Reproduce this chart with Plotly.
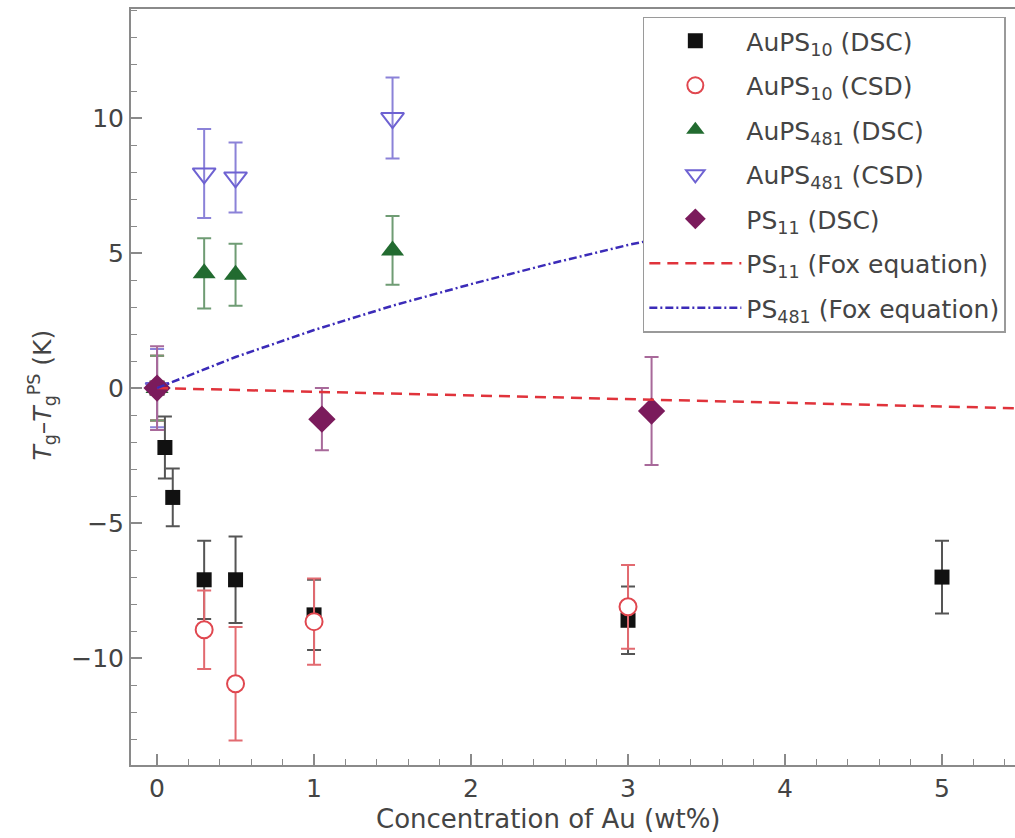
import plotly.graph_objects as go

# ---- data ----
au10_dsc_x = [0, 0.05, 0.1, 0.3, 0.5, 1.0, 3.0, 5.0]
au10_dsc_y = [0, -2.2, -4.05, -7.1, -7.1, -8.4, -8.6, -7.0]
au10_dsc_e = [1.2, 1.15, 1.07, 1.45, 1.6, 1.3, 1.25, 1.35]

au10_csd_x = [0, 0.3, 0.5, 1.0, 3.0]
au10_csd_y = [0, -8.95, -10.95, -8.65, -8.1]
au10_csd_e = [1.2, 1.45, 2.1, 1.6, 1.55]

au481_dsc_x = [0, 0.3, 0.5, 1.5]
au481_dsc_y = [0, 4.25, 4.2, 5.1]
au481_dsc_e = [1.2, 1.3, 1.15, 1.27]

au481_csd_x = [0, 0.3, 0.5, 1.5]
au481_csd_y = [0, 7.95, 7.8, 10.0]
au481_csd_e = [1.45, 1.65, 1.3, 1.5]

ps11_dsc_x = [0, 1.05, 3.15]
ps11_dsc_y = [0, -1.15, -0.85]
ps11_dsc_e = [1.55, 1.15, 2.0]

fox11_x = [0, 1, 2, 3, 4, 5, 5.5]
fox11_y = [0, -0.14, -0.28, -0.41, -0.54, -0.68, -0.75]

fox481_x = [0, 0.5, 1, 1.5, 2, 2.5, 3, 3.5, 4, 4.5, 5, 5.4]
fox481_y = [0, 1.15, 2.15, 3.05, 3.85, 4.6, 5.3, 5.9, 6.5, 7.0, 7.5, 7.9]

x_title = "Concentration of Au (wt%)"
y_title = "<i>T</i><sub>g</sub>\u2013<i>T</i><sub>g</sub><sup>PS</sup> (K)"

FONT = "DejaVu Sans"
TXT = "#444444"

fig = go.Figure()


def pts(x, y, e, name, symbol, color, fillcolor, ecolor, size, lw, grp):
    fig.add_trace(go.Scatter(
        x=x, y=y, mode="markers", name=name, legendgroup=grp,
        marker=dict(symbol=symbol, size=size, color=fillcolor,
                    line=dict(color=color, width=lw)),
        error_y=dict(type="data", array=e, visible=True, color=ecolor,
                     thickness=2, width=7),
    ))


pts(au10_dsc_x, au10_dsc_y, au10_dsc_e, "AuPS<sub>10</sub> (DSC)", "square",
    "#111111", "#111111", "#555555", 15, 0, "a")
pts(au10_csd_x, au10_csd_y, au10_csd_e, "AuPS<sub>10</sub> (CSD)", "circle",
    "#e0474f", "white", "#e26a70", 17, 2, "b")
pts(au481_dsc_x, au481_dsc_y, au481_dsc_e, "AuPS<sub>481</sub> (DSC)", "triangle-up",
    "#226b30", "#226b30", "#6f9c74", 20, 0, "c")
pts(au481_csd_x, au481_csd_y, au481_csd_e, "AuPS<sub>481</sub> (CSD)", "triangle-down-open",
    "#6e62d2", "#6e62d2", "#8b82d8", 20, 2, "d")
pts(ps11_dsc_x, ps11_dsc_y, ps11_dsc_e, "PS<sub>11</sub> (DSC)", "diamond",
    "#7b1b5c", "#7b1b5c", "#a8699a", 21, 0, "e")

fig.add_trace(go.Scatter(
    x=fox11_x, y=fox11_y, mode="lines", name="PS<sub>11</sub> (Fox equation)",
    legendgroup="f", line=dict(color="#e0333b", width=2.5, dash="11px,7px")))
fig.add_trace(go.Scatter(
    x=fox481_x, y=fox481_y, mode="lines", name="PS<sub>481</sub> (Fox equation)",
    legendgroup="h", line=dict(color="#3b2bb8", width=2.5, dash="8px,3px,2px,3px")))

fig.add_annotation(
    text=x_title, xref="paper", yref="paper", x=0.472, y=0, yshift=-71,
    xanchor="center", yanchor="bottom", showarrow=False,
    font=dict(family=FONT, size=26, color=TXT),
)
fig.add_annotation(
    text=y_title, xref="paper", yref="paper", x=-0.1007, y=0.49,
    xanchor="center", yanchor="middle", showarrow=False, textangle=-90,
    font=dict(family=FONT, size=25, color=TXT),
)

fig.update_layout(
    width=1015, height=838,
    margin=dict(l=131, r=0, t=9, b=73),
    paper_bgcolor="white", plot_bgcolor="white",
    font=dict(family=FONT, size=22, color=TXT),
    showlegend=True,
    legend=dict(
        x=0.579, y=0.99, xanchor="left", yanchor="top",
        bgcolor="white", bordercolor="#9a9a9a", borderwidth=1.5,
        font=dict(family=FONT, size=25, color=TXT),
        tracegroupgap=9, itemwidth=92,
    ),
    xaxis=dict(
        range=[-0.166, 5.465], showgrid=False, zeroline=False,
        showline=True, linecolor="#8a8a8a", linewidth=2, mirror=True,
        ticks="inside", ticklen=11, tickwidth=1.5, tickcolor="#8a8a8a",
        tickvals=[0, 1, 2, 3, 4, 5],
        minor=dict(dtick=0.2, tick0=0, ticks="inside", ticklen=6,
                   tickcolor="#8a8a8a", tickwidth=1.2),
        tickfont=dict(size=25, color=TXT),
    ),
    yaxis=dict(
        range=[-13.96, 14.04], showgrid=False, zeroline=False,
        showline=True, linecolor="#8a8a8a", linewidth=2,
        ticks="inside", ticklen=11, tickwidth=1.5, tickcolor="#8a8a8a",
        tickvals=[-10, -5, 0, 5, 10], ticktext=["\u221210", "\u22125", "0", "5", "10"],
        minor=dict(dtick=1, tick0=0, ticks="inside", ticklen=6,
                   tickcolor="#8a8a8a", tickwidth=1.2),
        tickfont=dict(size=25, color=TXT),
    ),
)

fig.write_html("out.html")
